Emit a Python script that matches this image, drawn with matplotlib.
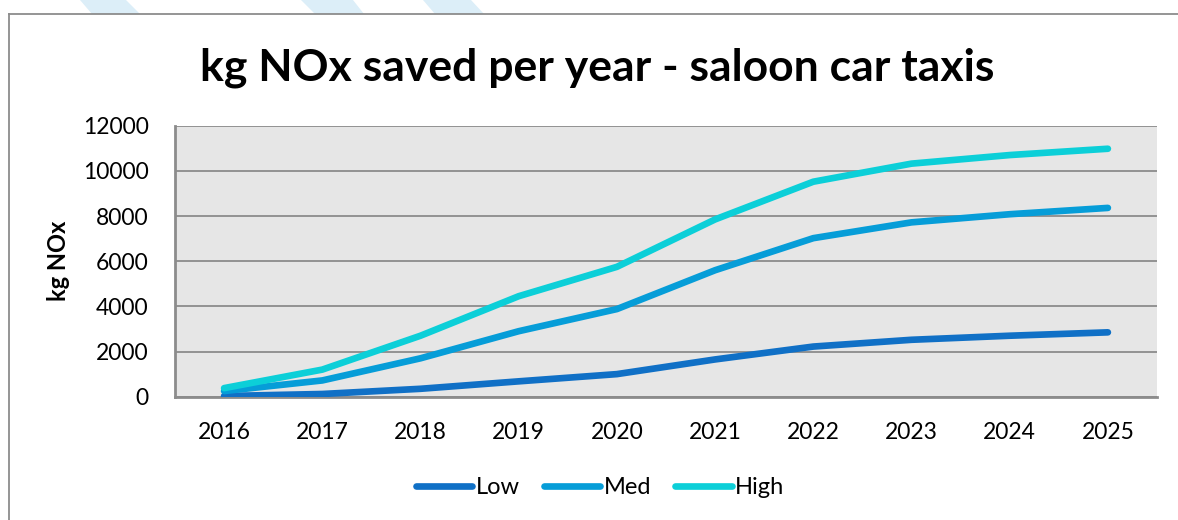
import matplotlib
matplotlib.use("Agg")
import matplotlib.pyplot as plt
from matplotlib.patches import Polygon
from matplotlib.lines import Line2D

years = ["2016", "2017", "2018", "2019", "2020", "2021", "2022", "2023", "2024", "2025"]
low = [30, 120, 350, 680, 1000, 1650, 2220, 2520, 2700, 2850]
med = [250, 720, 1700, 2900, 3880, 5600, 7020, 7720, 8080, 8360]
high = [380, 1200, 2700, 4450, 5750, 7850, 9520, 10320, 10700, 10980]
series_names = ["Low", "Med", "High"]
colors = ["#1070C6", "#069DD8", "#0CCFD8"]
yticks = [0, 2000, 4000, 6000, 8000, 10000, 12000]

plt.rcParams['font.family'] = ['Lato', 'DejaVu Sans']

W, H = 1178, 520
fig = plt.figure(figsize=(W / 100, H / 100), dpi=100)

def px(x, y):
    return (x / W, 1 - y / H)

# decorative stripes at top
stripe_col = "#DCEEF8"
for (a, b, c, d) in [(80, 126, 140, 92), (301, 353, 364, 315), (423, 471, 484, 435)]:
    poly = Polygon([px(a, 0), px(b, 0), px(c, 14), px(d, 14)], closed=True,
                   transform=fig.transFigure, facecolor=stripe_col, edgecolor='none')
    fig.patches.append(poly)

# outer chart border
fig.add_artist(Line2D([9 / W, 9 / W], [0, 1 - 14 / H], transform=fig.transFigure,
                      color="#8C8C8C", lw=1.3))
fig.add_artist(Line2D([9 / W, 1], [1 - 14 / H, 1 - 14 / H], transform=fig.transFigure,
                      color="#8C8C8C", lw=1.3))

left, right, top, bottom = 175, 1157, 125.7, 396.7
ax = fig.add_axes([left / W, 1 - bottom / H, (right - left) / W, (bottom - top) / H])
ax.set_facecolor("#E6E6E6")

x = list(range(len(years)))
for vals, name, col in zip([low, med, high], series_names, colors):
    ax.plot(x, vals, color=col, lw=4.8, solid_capstyle='round', solid_joinstyle='round',
            label=name, zorder=3)

ax.set_xlim(-0.5, len(years) - 0.5)
ax.set_ylim(0, 12000)
ax.set_yticks(yticks)
ax.set_yticklabels([str(v) for v in yticks])
ax.set_xticks(x)
ax.set_xticklabels(years)
ax.tick_params(axis='both', length=0, labelsize=16.5, colors='black')
ax.tick_params(axis='y', pad=19)
ax.tick_params(axis='x', pad=18)
ax.grid(axis='y', color="#8C8C8C", lw=1.3, zorder=1)
ax.set_axisbelow(True)
for s in ['top', 'right']:
    ax.spines[s].set_visible(False)
for s in ['left', 'bottom']:
    ax.spines[s].set_color("#8C8C8C")
    ax.spines[s].set_linewidth(2)

fig.text(59 / W, 1 - 261 / H, "kg NOx", rotation=90, ha='center', va='center',
         fontsize=17, fontweight='bold')

fig.text(597 / W, 1 - 68 / H, "kg NOx saved per year - saloon car taxis",
         ha='center', va='center', fontsize=32, fontweight='bold')

handles, labels = ax.get_legend_handles_labels()
fig.legend(handles, labels, loc='center', bbox_to_anchor=(600 / W, 1 - 488 / H), ncol=3,
           frameon=False, fontsize=17, handlelength=2.4, handletextpad=0.15,
           columnspacing=1.0)

fig.savefig("out.png", dpi=100)
